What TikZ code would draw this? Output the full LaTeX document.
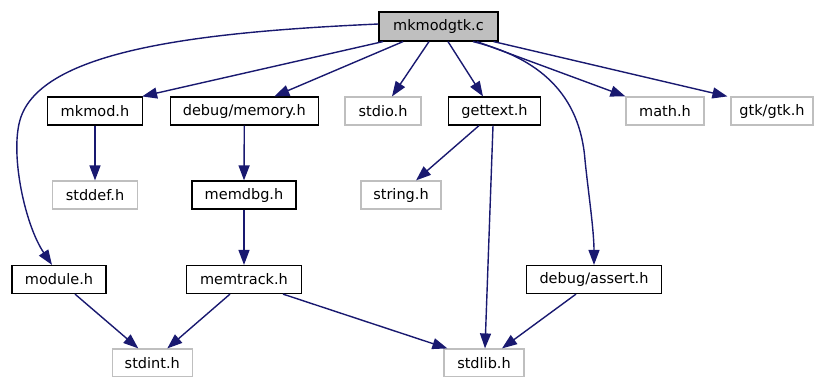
\documentclass[tikz,border=0pt]{standalone}
\usepackage{fontspec}
\setmainfont{DejaVu Sans}
\usetikzlibrary{arrows.meta}
\definecolor{edgeblue}{HTML}{191970}
\definecolor{boxgray}{HTML}{BFBFBF}
\tikzset{
  hdr/.style={draw=black, line width=1.2pt, fill=white, minimum height=28pt, inner sep=0pt, font=\fontsize{14.5pt}{16pt}\selectfont},
  sys/.style={hdr, draw=boxgray},
  mainbox/.style={hdr, fill=boxgray, minimum height=29pt},
  dep/.style={draw=edgeblue, line width=1.4pt, -{Triangle[length=15pt,width=11pt]}, edgeblue}
}
\begin{document}
\begin{tikzpicture}[x=1pt,y=-1pt]
\useasboundingbox (0,0) rectangle (814,376);
\node[mainbox, minimum width=119pt] (main) at (438.5,26.5) {mkmodgtk.c};
\node[hdr, minimum width=95pt] (mkmod) at (95,111) {mkmod.h};
\node[hdr, minimum width=148pt] (memory) at (244.3,111) {debug/memory.h};
\node[sys, minimum width=76pt] (stdio) at (383,111) {stdio.h};
\node[hdr, minimum width=92pt] (gettext) at (494.5,111) {gettext.h};
\node[sys, minimum width=78pt] (math) at (665,111) {math.h};
\node[sys, minimum width=82pt] (gtk) at (772,111) {gtk/gtk.h};
\node[sys, minimum width=85pt] (stddef) at (95,195) {stddef.h};
\node[hdr, minimum width=104pt] (memdbg) at (244,195) {memdbg.h};
\node[sys, minimum width=80pt] (string) at (401,195) {string.h};
\node[hdr, minimum width=94pt] (module) at (59,279.5) {module.h};
\node[hdr, minimum width=115pt] (memtrack) at (244,279.5) {memtrack.h};
\node[hdr, minimum width=135pt] (assert) at (594,279.5) {debug/assert.h};
\node[sys, minimum width=80pt] (stdint) at (152.3,363) {stdint.h};
\node[sys, minimum width=80pt] (stdlib) at (484,363) {stdlib.h};

\draw[dep] ([yshift=2.5pt]main.west) .. controls (200,32) and (40,50) .. (20,120) .. controls (10,155) and (25,225) .. ([xshift=-7pt]module.north);
\draw[dep] ([xshift=-55.5pt]main.south) -- ([xshift=-1pt]mkmod.north east);
\draw[dep] ([xshift=-35.5pt]main.south) -- ([xshift=30pt]memory.north);
\draw[dep] ([xshift=-9.5pt]main.south) -- ([xshift=9pt]stdio.north);
\draw[dep] ([xshift=9.5pt]main.south) -- ([xshift=-11.5pt]gettext.north);
\draw[dep] ([xshift=34.5pt]main.south) .. controls (540,58) and (580,95) .. (585,160) .. controls (588,190) and (594,230) .. (assert.north);
\draw[dep] ([xshift=38.5pt]main.south) -- (math.north west);
\draw[dep] ([xshift=-5pt]main.south east) -- ([xshift=-3pt]gtk.north west);
\draw[dep] (mkmod.south) -- (stddef.north);
\draw[dep] (memory.south) -- (memdbg.north);
\draw[dep] ([xshift=-15.5pt]gettext.south) -- ([xshift=15pt]string.north);
\draw[dep] ([xshift=-1.5pt]gettext.south) -- ([xshift=1pt]stdlib.north);
\draw[dep] (memdbg.south) -- (memtrack.north);
\draw[dep] ([xshift=16pt]module.south) -- ([xshift=-14pt]stdint.north);
\draw[dep] ([xshift=-14pt]memtrack.south) -- ([xshift=15pt]stdint.north);
\draw[dep] ([xshift=39pt]memtrack.south) -- ([xshift=4pt]stdlib.north west);
\draw[dep] ([xshift=-18pt]assert.south) -- ([xshift=18pt]stdlib.north);
\end{tikzpicture}
\end{document}
